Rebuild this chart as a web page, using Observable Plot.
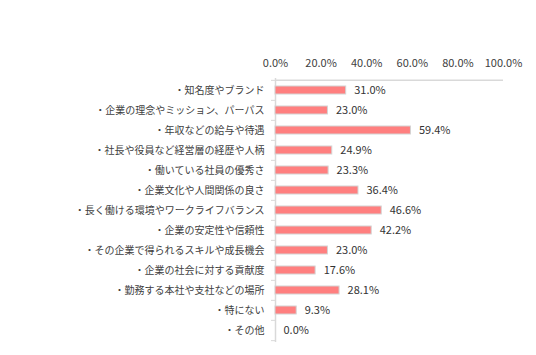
<!DOCTYPE html>
<html>
<head>
<meta charset="utf-8">
<script src="https://cdn.jsdelivr.net/npm/d3@7"></script>
<script src="https://cdn.jsdelivr.net/npm/@observablehq/plot@0.6"></script>
<style>
  html, body { margin: 0; padding: 0; background: #fff; }
  #chart svg { display: block; }
</style>
</head>
<body>
<div id="chart"></div>
<script>
const categories = [
  "・知名度やブランド",
  "・企業の理念やミッション、パーパス",
  "・年収などの給与や待遇",
  "・社長や役員など経営層の経歴や人柄",
  "・働いている社員の優秀さ",
  "・企業文化や人間関係の良さ",
  "・長く働ける環境やワークライフバランス",
  "・企業の安定性や信頼性",
  "・その企業で得られるスキルや成長機会",
  "・企業の社会に対する貢献度",
  "・勤務する本社や支社などの場所",
  "・特にない",
  "・その他"
];
const values = [31.0, 23.0, 59.4, 24.9, 23.3, 36.4, 46.6, 42.2, 23.0, 17.6, 28.1, 9.3, 0.0];
const xTicks = [0, 20, 40, 60, 80, 100];
const xDomain = [0, 100];

const data = categories.map((label, i) => ({label, value: values[i]}));

const width = 536, height = 355;
const marginTop = 78, marginBottom = 13, marginLeft = 275, marginRight = 33;
const paddingInner = 0.6, paddingOuter = 0.3;
const step = (height - marginTop - marginBottom) / (categories.length - paddingInner + 2 * paddingOuter);
const gridColor = "#d9d9d9";
const textColor = "#404040";
const font = "'Noto Sans CJK JP', 'Noto Sans', sans-serif";

const chart = Plot.plot({
  width, height, marginTop, marginBottom, marginLeft, marginRight,
  style: {fontFamily: font, color: textColor, background: "#fff"},
  x: {domain: xDomain, axis: null, label: null},
  y: {domain: categories, paddingInner, paddingOuter, axis: null, label: null},
  marks: [
    Plot.axisX({anchor: "top", ticks: xTicks, tickSize: 0, tickPadding: 12, fontSize: 11, label: null,
      tickFormat: d => d.toFixed(1) + "%", fill: textColor}),
    Plot.axisY({anchor: "left", tickSize: 0, tickPadding: 11, fontSize: 10, label: null, fill: textColor}),
    Plot.axisY({anchor: "left", ticks: categories, tickSize: 4, text: null, label: null, dy: -step / 2, stroke: gridColor}),
    Plot.axisY({anchor: "left", ticks: [categories[categories.length - 1]], tickSize: 4, text: null, label: null, dy: step / 2, stroke: gridColor}),
    Plot.ruleY([categories[0]], {x1: xDomain[0], x2: xDomain[1], dy: -step / 2, stroke: gridColor, strokeWidth: 1.5}),
    Plot.ruleX([0], {stroke: gridColor, strokeWidth: 1.5}),
    Plot.barX(data.filter(d => d.value > 0), {x: "value", y: "label", fill: "#FF7F7F", stroke: "#d4d4d4", strokeWidth: 1}),
    Plot.text(data, {x: "value", y: "label", text: d => d.value.toFixed(1) + "%", textAnchor: "start", dx: 8, fontSize: 11, fill: "#333"})
  ]
});
document.getElementById("chart").appendChild(chart);
</script>
</body>
</html>
